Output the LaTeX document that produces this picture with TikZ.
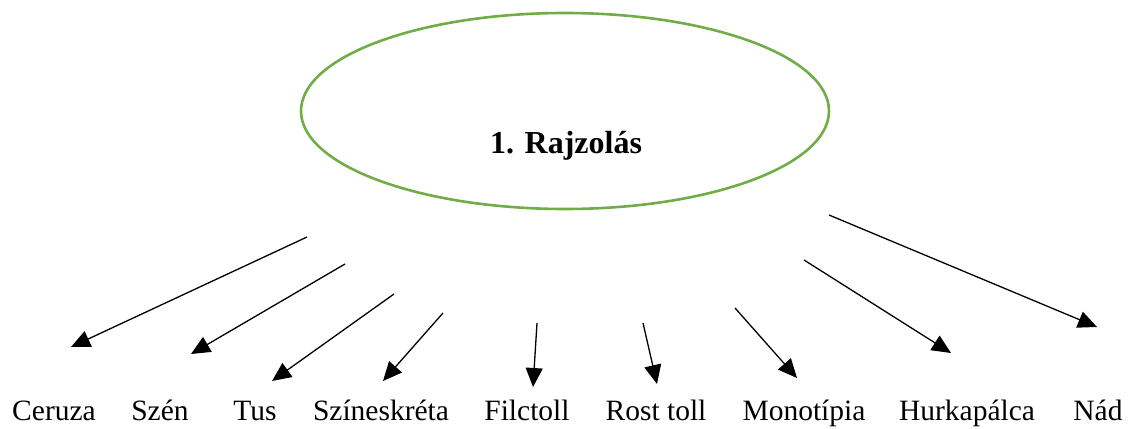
\documentclass[tikz,border=0pt]{standalone}
\usepackage{fontspec}
\setmainfont{Liberation Serif}
\usetikzlibrary{arrows.meta}
\definecolor{egreen}{HTML}{70AD47}
\begin{document}
\begin{tikzpicture}[x=1pt,y=-1pt,
  lbl/.style={inner sep=0pt,anchor=base,font=\fontsize{29.5}{34}\selectfont},
  arr/.style={line width=1.3pt,-{Triangle[length=19pt,width=17pt]}}]
\useasboundingbox (0,0) rectangle (1131,428);
\draw[egreen,line width=2.6pt] (565,111) ellipse [x radius=264, y radius=98];
\node[inner sep=0pt,anchor=base,font=\fontsize{32}{38}\selectfont\bfseries] (title) at (566,153) {1. Rajzolás};
\node[lbl] (l1) at (54,420) {Ceruza};
\node[lbl] (l2) at (160,420) {Szén};
\node[lbl] (l3) at (255,420) {Tus};
\node[lbl] (l4) at (381,420) {Színeskréta};
\node[lbl] (l5) at (527,420) {Filctoll};
\node[lbl] (l6) at (656,420) {Rost toll};
\node[lbl] (l7) at (804,420) {Monotípia};
\node[lbl] (l8) at (967,420) {Hurkapálca};
\node[lbl] (l9) at (1098,420) {Nád};
\coordinate (s1) at (307,237); \coordinate (t1) at (71,347);
\coordinate (s2) at (345,264); \coordinate (t2) at (191,354);
\coordinate (s3) at (394,294); \coordinate (t3) at (272,381);
\coordinate (s4) at (443,313); \coordinate (t4) at (383,381);
\coordinate (s5) at (537,323); \coordinate (t5) at (533,387);
\coordinate (s6) at (643,323); \coordinate (t6) at (657,384);
\coordinate (s7) at (735,308); \coordinate (t7) at (797,378);
\coordinate (s8) at (804,260); \coordinate (t8) at (951,353);
\coordinate (s9) at (829,215); \coordinate (t9) at (1097,327);
\foreach \i in {1,...,9} \draw[arr] (s\i) -- (t\i);
\end{tikzpicture}
\end{document}
